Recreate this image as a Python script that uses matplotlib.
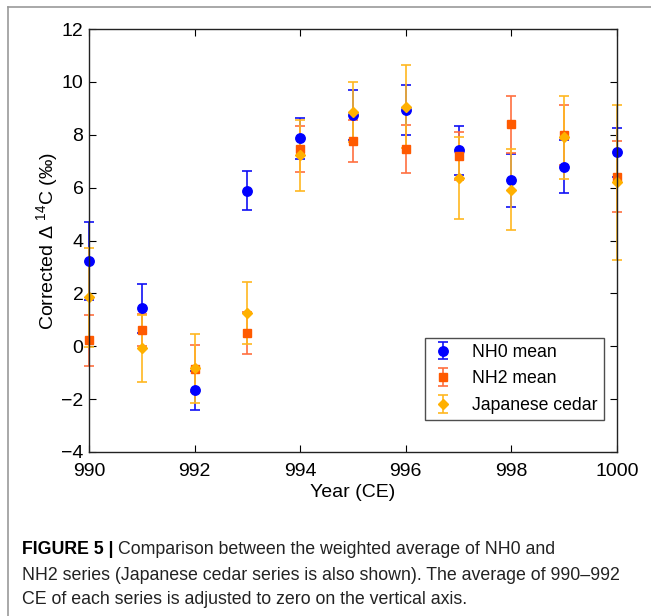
import matplotlib
matplotlib.use("Agg")
import matplotlib.pyplot as plt
from matplotlib.lines import Line2D

plt.rcParams["font.family"] = ["Liberation Sans", "DejaVu Sans"]
plt.rcParams["mathtext.fontset"] = "custom"
plt.rcParams["mathtext.rm"] = "Liberation Sans"

# data
years = [990, 991, 992, 993, 994, 995, 996, 997, 998, 999, 1000]
nh0 = [3.22, 1.43, -1.67, 5.88, 7.86, 8.74, 8.94, 7.41, 6.27, 6.79, 7.33]
nh0_err = [1.47, 0.93, 0.73, 0.74, 0.76, 0.94, 0.94, 0.93, 0.99, 1.01, 0.94]
nh2 = [0.22, 0.62, -0.85, 0.50, 7.46, 7.76, 7.46, 7.19, 8.40, 8.00, 6.42]
nh2_err = [0.96, 0.60, 0.88, 0.80, 0.87, 0.80, 0.91, 0.90, 1.08, 1.14, 1.35]
cedar = [1.86, -0.08, -0.83, 1.26, 7.22, 8.86, 9.05, 6.37, 5.92, 7.91, 6.20]
cedar_err = [1.87, 1.28, 1.30, 1.18, 1.33, 1.12, 1.57, 1.55, 1.54, 1.57, 2.93]

fig = plt.figure(figsize=(6.51, 6.16), dpi=100)
ax = fig.add_axes([89 / 651, 164 / 616, 528 / 651, 423 / 616])


def unclip(cont):
    for a in cont.lines[1] + cont.lines[2]:
        a.set_clip_on(False)
    cont.lines[0].set_clip_on(False)


c = ax.errorbar(years, nh0, yerr=nh0_err, fmt="o", color="#0000ff", ecolor="#1010f5",
                ms=6.8, capsize=3.6, elinewidth=1.2, capthick=1.2, label="NH0 mean")
unclip(c)
c = ax.errorbar(years, nh2, yerr=nh2_err, fmt="s", color="#ff5a00", ecolor="#ff7040",
                ms=5.8, capsize=3.6, elinewidth=1.2, capthick=1.2, label="NH2 mean")
unclip(c)
c = ax.errorbar(years, cedar, yerr=cedar_err, fmt="D", color="#ffb000", ecolor="#ffb820",
                ms=5.0, capsize=3.6, elinewidth=1.2, capthick=1.2, label="Japanese cedar")
unclip(c)

ax.set_xlim(990, 1000)
ax.set_ylim(-4, 12)
ax.set_xticks(range(990, 1001, 2))
ax.set_yticks(range(-4, 13, 2))
ax.tick_params(direction="in", top=True, right=True, labelsize=14, length=5)
ax.tick_params(axis="x", pad=8)
ax.tick_params(axis="y", pad=4)
ax.set_xlabel("Year (CE)", fontsize=14, labelpad=3)
ax.set_ylabel(r"Corrected $\Delta$ $^{14}$C (‰)", fontsize=14, labelpad=0)
for s in ax.spines.values():
    s.set_linewidth(1.0)
    s.set_color("#222222")

leg = ax.legend(loc="lower right", bbox_to_anchor=(0.975, 0.075), fontsize=12.7,
                frameon=True, fancybox=False, edgecolor="#222222",
                handlelength=1.3, handletextpad=1.0, borderpad=0.35,
                labelspacing=0.55, borderaxespad=0)
leg.get_frame().set_linewidth(1.0)

# outer frame of the figure panel
fig.add_artist(Line2D([8 / 651, 1], [1 - 7 / 616, 1 - 7 / 616], color="#999999", lw=1.2))
fig.add_artist(Line2D([8 / 651, 8 / 651], [0, 1 - 7 / 616], color="#999999", lw=1.2))

cap_y = [549, 575, 600]
cap_fs = 12.8
t0 = fig.text(22 / 651, 1 - cap_y[0] / 616, "FIGURE 5 |", fontsize=cap_fs,
              fontweight="bold", va="center", ha="left")
fig.canvas.draw()
bb = t0.get_window_extent()
fig.text(bb.x1 / 651 + 4 / 651, 1 - cap_y[0] / 616,
         "Comparison between the weighted average of NH0 and",
         fontsize=cap_fs, va="center", ha="left", color="#222222")
fig.text(22 / 651, 1 - cap_y[1] / 616,
         "NH2 series (Japanese cedar series is also shown). The average of 990\u2013992",
         fontsize=cap_fs, va="center", ha="left", color="#222222")
fig.text(22 / 651, 1 - cap_y[2] / 616,
         "CE of each series is adjusted to zero on the vertical axis.",
         fontsize=cap_fs, va="center", ha="left", color="#222222")

fig.savefig("out.png", dpi=100)
